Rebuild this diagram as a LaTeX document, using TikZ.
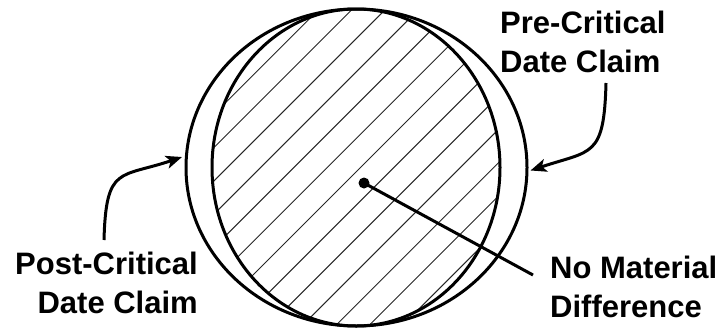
\documentclass[tikz,border=0pt]{standalone}
\usepackage{fontspec}
\setmainfont{Liberation Sans}
\usetikzlibrary{arrows.meta, positioning, calc}
\tikzset{
    % Text labels
    every node/.style={font=\bfseries\fontsize{31}{38.5}\selectfont},
    caption/.style={
        inner sep=0pt
    },
    % Claim outline style
    outline/.style={
        draw=black,
        line width=3pt
    },
    % Hatching line
    hatchline/.style={
        draw=black!85,
        line width=1pt
    },
    % Arrow style
    arrow/.style={
        -{Stealth[length=16pt,width=13pt,inset=4pt]},
        line width=3pt,
        color=black
    },
    % Leader line to the centre dot
    leader/.style={
        line width=3pt,
        color=black
    }
}

\begin{document}
\begin{tikzpicture}[x=1pt, y=-1pt]
        \useasboundingbox (0,0) rectangle (722,327);

        % Hatched overlap
        \begin{scope}
            \clip (356,167.5) ellipse [x radius=144pt, y radius=158.5pt];
            \foreach \k in {-8,...,8} {
                \draw [hatchline] ({528+33.3*\k+20},-20) -- ({528+33.3*\k-360},360);
            }
        \end{scope}

        % Claims
        \draw [outline] (356,167.5) ellipse [x radius=144pt, y radius=158.5pt];
        \draw [outline] (356.5,167.5) ellipse [x radius=170.5pt, y radius=158.5pt];

        % Labels (base = last line)
        \node (post) [caption, align=right, anchor=base east] at (198,313) {Post-Critical\\Date Claim};
        \node (pre) [caption, align=left, anchor=base west] at (500,72) {Pre-Critical\\Date Claim};
        \node (nomat) [caption, align=left, anchor=base west] at (550,317) {No Material\\Difference};

        % Arrows
        \coordinate (postStart) at (104,240);
        \coordinate (postTip) at (182,157);
        \coordinate (preStart) at (606,83);
        \coordinate (preTip) at (530.5,170.5);
        \draw [arrow] (postStart) .. controls (106,165) and (120,178) .. (postTip);
        \draw [arrow] (preStart) .. controls (604,158) and (592,150) .. (preTip);

        % Centre dot
        \node (dot) [circle, fill=black, inner sep=0pt, minimum size=11pt] at (364,183) {};
        \coordinate (leadEnd) at (533,275);
        \draw [leader] (dot.center) -- (leadEnd);
    \end{tikzpicture}
\end{document}
